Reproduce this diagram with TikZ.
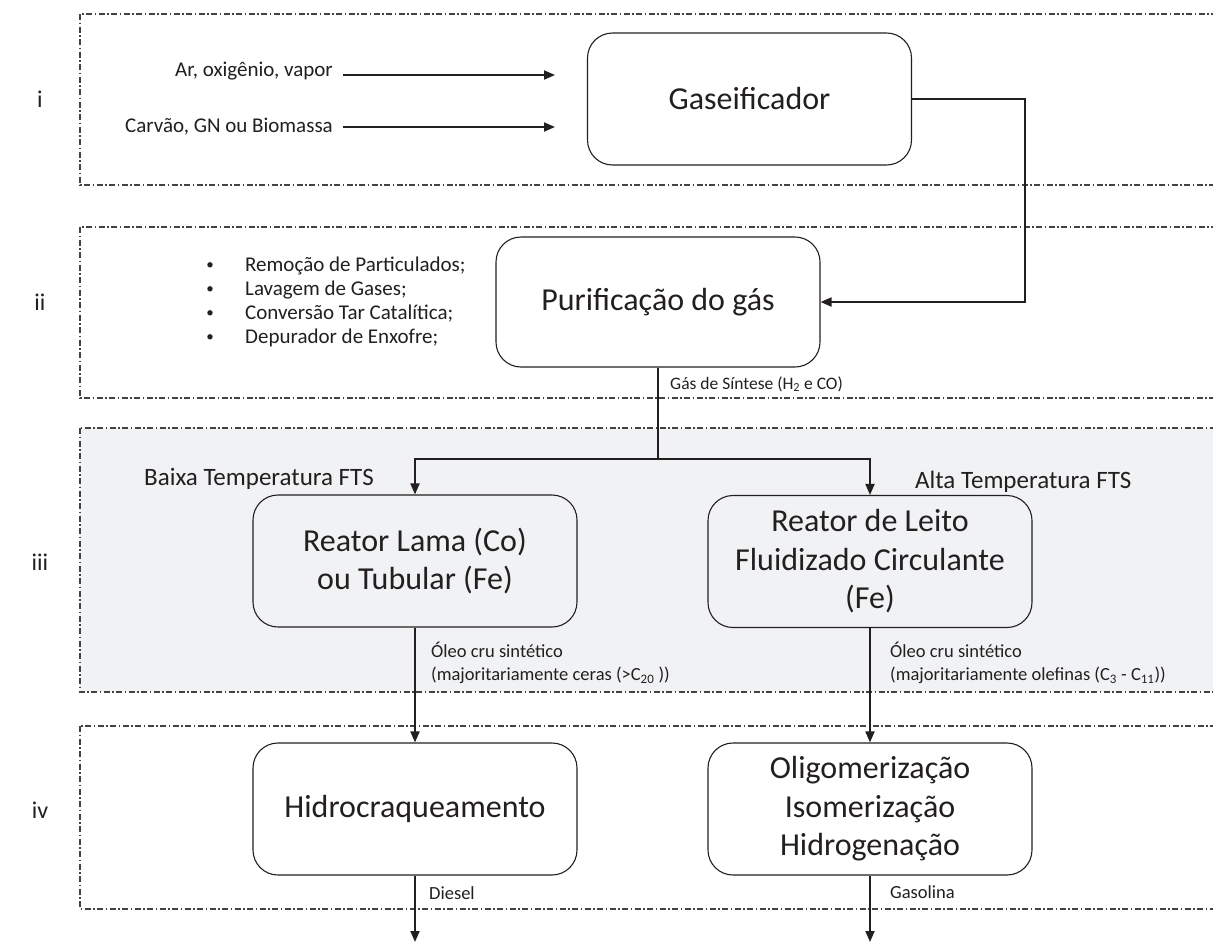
\documentclass[tikz,border=0pt]{standalone}
\usepackage{fontspec}
\setmainfont{Carlito}
\usetikzlibrary{arrows.meta}
\definecolor{bandgray}{HTML}{F1F2F4}
\definecolor{ink}{HTML}{231F20}
\begin{document}
\begin{tikzpicture}[x=1pt,y=-1pt,
  box/.style={draw=ink, line width=1.1pt, rounded corners=25pt, minimum width=324pt, minimum height=132pt, inner sep=0pt, align=center, font=\fontsize{32}{38.5}\selectfont, text=ink},
  panel/.style={draw=ink!85, line width=1.1pt, dash pattern=on 6pt off 2.5pt on 1.5pt off 2.5pt},
  link/.style={draw=ink, line width=1.8pt},
  flow/.style={link, -{Triangle[length=11pt,width=9pt]}},
  lbl/.style={font=\fontsize{21}{24}\selectfont, text=ink, inner sep=0pt},
  dot/.style={font=\fontsize{15}{18}\selectfont, text=ink, inner sep=0pt},
  small/.style={font=\fontsize{18.5}{23}\selectfont, text=ink, inner sep=0pt, align=left},
  phase/.style={font=\fontsize{24}{28}\selectfont, text=ink, inner sep=0pt},
  fts/.style={font=\fontsize{25}{29}\selectfont, text=ink, inner sep=0pt}]

\useasboundingbox (0,0) rectangle (1213,943);
\clip (0,0) rectangle (1213,943);
\fill[white] (0,0) rectangle (1213,943);

% panels
\draw[panel] (80,14) rectangle (1240,185);
\draw[panel] (80,227) rectangle (1240,398);
\fill[bandgray] (80,428) rectangle (1240,692);
\draw[panel] (80,428) rectangle (1240,692);
\draw[panel] (80,726) rectangle (1240,909);

% phase labels
\node[phase] (p1) at (40,99) {i};
\node[phase] (p2) at (40,302) {ii};
\node[phase] (p3) at (40,562) {iii};
\node[phase] (p4) at (40,810) {iv};

% boxes
\node[box] (gas) at (749.5,99) {Gaseificador};
\node[box, minimum height=130pt] (pur) at (658,302) {Purificação do gás};
\node[box, fill=bandgray] (lama) at (415,561) {Reator Lama (Co)\\ou Tubular (Fe)};
\node[box, fill=bandgray] (leito) at (870,561.5) {Reator de Leito\\Fluidizado Circulante\\(Fe)};
\node[box] (hidro) at (415,809) {Hidrocraqueamento};
\node[box] (oligo) at (870,809) {Oligomerização\\Isomerização\\Hidrogenação};

% inputs
\node[lbl, anchor=east] (ar) at (333,71) {Ar, oxigênio, vapor};
\node[lbl, anchor=east] (carv) at (333,127) {Carvão, GN ou Biomassa};
\coordinate (arStart) at (343,75);
\coordinate (arEnd) at (555,75);
\coordinate (carvEnd) at (555,127);
\draw[flow] (arStart) -- (arEnd);
\draw[flow] ([xshift=10pt]carv.east) -- (carvEnd);

% bullets
\node[dot] (b1) at (210,266) {•};
\node[dot] (b2) at (210,290) {•};
\node[dot] (b3) at (210,314) {•};
\node[dot] (b4) at (210,338) {•};
\node[lbl, anchor=west] (t1) at (245,266) {Remoção de Particulados;};
\node[lbl, anchor=west] (t2) at (245,290) {Lavagem de Gases;};
\node[lbl, anchor=west] (t3) at (245,314) {Conversão Tar Catalítica;};
\node[lbl, anchor=west] (t4) at (245,338) {Depurador de Enxofre;};

% connectors
\draw[flow] (gas.east) -- ++(113,0) |- (pur.east);
\coordinate (split) at (658,459);
\draw[link] (pur.south) -- (split);
\draw[flow] (split) -| (lama.north);
\draw[flow] (split) -| (leito.north);
\draw[flow] (lama.south) -- (hidro.north);
\draw[flow] (leito.south) -- (oligo.north);
\coordinate (dieselEnd) at (415,942);
\coordinate (gasolEnd) at (870,942);
\draw[flow] (hidro.south) -- (dieselEnd);
\draw[flow] (oligo.south) -- (gasolEnd);

% labels
\node[small, anchor=west, font=\fontsize{17.5}{21}\selectfont] (syn) at (670,384) {Gás de Síntese (H\textsubscript{2} e CO)};
\node[fts, anchor=east] (baixa) at (374,479) {Baixa Temperatura FTS};
\node[fts, anchor=west] (alta) at (915,482) {Alta Temperatura FTS};
\node[small, anchor=west] (oleoA) at (431,663) {Óleo cru sintético\\(majoritariamente ceras (>C\textsubscript{20} ))};
\node[small, anchor=west] (oleoB) at (890,663) {Óleo cru sintético\\(majoritariamente olefinas (C\textsubscript{3} - C\textsubscript{11}))};
\node[small, anchor=west] (diesel) at (429,893) {Diesel};
\node[small, anchor=west] (gasol) at (890,892) {Gasolina};
\end{tikzpicture}
\end{document}
